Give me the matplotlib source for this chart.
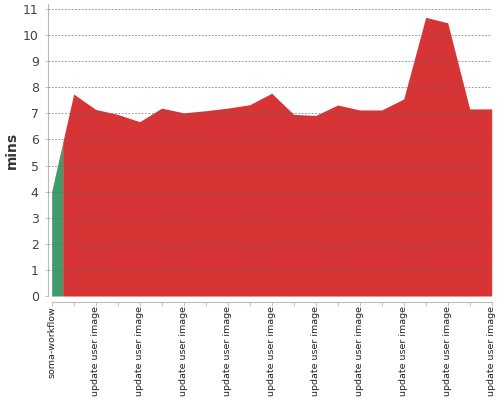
import numpy as np
import matplotlib
matplotlib.use("Agg")
from matplotlib import pyplot as plt

# durations in minutes per build step
steps = ["soma-workflow"] + ["update user image"] * 20
mins = [4.0, 7.74, 7.15, 6.96, 6.68, 7.2, 7.02, 7.1, 7.2, 7.33, 7.77,
        6.96, 6.92, 7.32, 7.13, 7.13, 7.55, 10.68, 10.47, 7.17, 7.17]
step_colors = {"soma-workflow": "#429b6a", "update user image": "#d73535"}

x = np.arange(len(mins))
y = np.array(mins)

fig = plt.figure(figsize=(5, 4), dpi=100)
ax = fig.add_axes([0.0954, 0.26, 0.888, 0.73])

# colour each run of equal steps, split halfway between neighbours
edges = np.concatenate([[x[0]], (x[:-1] + x[1:]) / 2, [x[-1]]])
start = 0
for i in range(1, len(steps) + 1):
    if i == len(steps) or steps[i] != steps[start]:
        xs = np.concatenate([[edges[start]], x[start:i], [edges[i]]])
        ys = np.interp(xs, x, y)
        ax.fill_between(xs, 0, ys, color=step_colors[steps[start]], lw=0, zorder=1)
        start = i

ax.set_xlim(-0.18, x[-1])
ax.set_ylim(0, 11.19)
ax.set_yticks(range(0, 12))
ax.yaxis.grid(True, color="#666666", linestyle=(0, (2, 2)), linewidth=0.6, alpha=0.8)
ax.set_axisbelow(False)

ax.set_xticks(x)
ax.set_xticklabels([s if i % 2 == 0 else "" for i, s in enumerate(steps)])
ax.tick_params(axis="x", length=3, width=0.6, color="#bbbbbb", pad=0.5,
               labelsize=6.8, labelcolor="#222222", labelrotation=90)
ax.tick_params(axis="y", length=2.5, width=0.6, color="#bbbbbb", labelsize=9,
               labelcolor="#444444", pad=4)

for side in ["top", "right"]:
    ax.spines[side].set_visible(False)
ax.spines["left"].set_color("#bbbbbb")
ax.spines["bottom"].set_color("#bbbbbb")
ax.spines["bottom"].set_position(("outward", 4))
ax.spines["bottom"].set_bounds(0, x[-1])

ax.set_ylabel("mins", fontsize=10, fontweight="bold", color="#333333", labelpad=3)

fig.savefig("out.png", dpi=100)
